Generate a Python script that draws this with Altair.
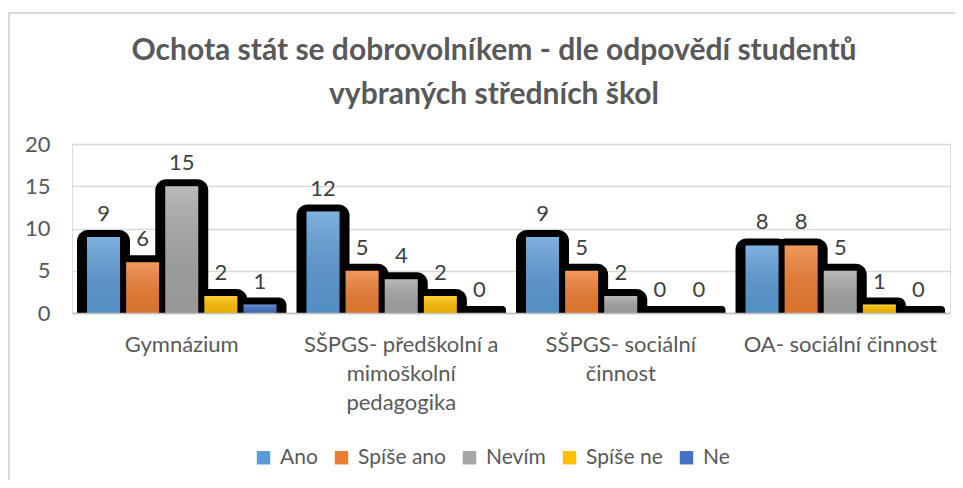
import altair as alt
import pandas as pd

categories = [
    "Gymnázium",
    "SŠPGS- předškolní a\nmimoškolní\npedagogika",
    "SŠPGS- sociální\nčinnost",
    "OA- sociální činnost",
]
series = ["Ano", "Spíše ano", "Nevím", "Spíše ne", "Ne"]
ano = [9, 12, 9, 8]
spise_ano = [6, 5, 5, 8]
nevim = [15, 4, 2, 5]
spise_ne = [2, 2, 0, 1]
ne = [1, 0, 0, 0]
y_ticks = [0, 5, 10, 15, 20]
colors = ["#5b9bd5", "#ed7d31", "#a5a5a5", "#ffc000", "#4472c4"]

title_lines = [
    "Ochota stát se dobrovolníkem - dle odpovědí studentů",
    "vybraných středních škol",
]

rows = []
for s, vals in zip(series, [ano, spise_ano, nevim, spise_ne, ne]):
    for c, v in zip(categories, vals):
        rows.append({"skola": c, "odpoved": s, "pocet": v})
df = pd.DataFrame(rows)

FONT = "Lato"
TXT = "#595959"

x_enc = alt.X(
    "skola:N",
    sort=categories,
    scale=alt.Scale(paddingInner=0.109, paddingOuter=0.0545),
    axis=alt.Axis(
        title=None,
        labelAngle=0,
        labelExpr="split(datum.label, '\\n')",
        labelFont=FONT,
        labelFontSize=22,
        labelColor=TXT,
        labelLineHeight=29,
        labelPadding=21,
        labelBaseline="top",
        labelLimit=0,
        ticks=False,
        domainColor="#bfbfbf",
        domainWidth=1.5,
        zindex=1,
        grid=False,
    ),
)
y_enc = alt.Y(
    "pocet:Q",
    stack=None,
    scale=alt.Scale(domain=[0, 20], nice=False),
    axis=alt.Axis(
        title=None,
        values=y_ticks,
        labelFont=FONT,
        labelFontSize=22,
        labelColor=TXT,
        labelPadding=22,
        ticks=False,
        domain=False,
        gridColor="#d9d9d9",
        gridWidth=1.5,
        zindex=0,
    ),
)
xo_enc = alt.XOffset("odpoved:N", sort=series, scale=alt.Scale(paddingInner=0, paddingOuter=0))

base = alt.Chart(df)

shadow = base.mark_bar(
    color="black",
    width=53,
    cornerRadiusTopLeft=11,
    cornerRadiusTopRight=11,
    yOffset=-7,
    y2Offset=2,
).encode(x=x_enc, y=y_enc, xOffset=xo_enc)

bars = base.mark_bar(width=33).encode(
    x=x_enc,
    y=y_enc,
    xOffset=xo_enc,
    color=alt.Color(
        "odpoved:N",
        sort=series,
        scale=alt.Scale(domain=series, range=colors),
        legend=alt.Legend(
            title=None,
            orient="none",
            direction="horizontal",
            legendX=181,
            legendY=303,
            symbolType="square",
            symbolSize=180,
            symbolStrokeWidth=0,
            labelFont=FONT,
            labelFontSize=21,
            labelColor=TXT,
            labelOffset=6,
            columnPadding=13,
            padding=0,
        ),
    ),
)

shade = base.mark_bar(
    width=33,
    fill=alt.Gradient(
        gradient="linear",
        stops=[
            alt.GradientStop(color="rgba(255,255,255,0.22)", offset=0),
            alt.GradientStop(color="rgba(0,0,0,0.08)", offset=1),
        ],
        x1=0, x2=0, y1=0, y2=1,
    ),
).encode(x=x_enc, y=y_enc, xOffset=xo_enc)

labels = base.mark_text(
    baseline="alphabetic",
    dy=-16,
    font=FONT,
    fontSize=22,
    color="#404040",
).encode(x=x_enc, y=y_enc, xOffset=xo_enc, text="pocet:Q")

frame_data = alt.Data(values=[{"k": 1}])
frame_left = alt.Chart(frame_data).mark_rule(color="#d9d9d9", strokeWidth=2).encode(
    x=alt.value(-63), y=alt.value(-131), y2=alt.value(340)
)
frame_top = alt.Chart(frame_data).mark_rule(color="#d9d9d9", strokeWidth=2).encode(
    x=alt.value(-64), x2=alt.value(890), y=alt.value(-131)
)

chart = alt.layer(frame_left, frame_top, shadow, bars, shade, labels).properties(
    width=878,
    height=169,
    autosize=alt.AutoSizeParams(type="none"),
    padding={"left": 64, "top": 136, "right": 5, "bottom": 167},
    title=alt.TitleParams(
        text=title_lines,
        font=FONT,
        fontSize=30,
        fontWeight="bold",
        color=TXT,
        lineHeight=44,
        anchor="middle",
        frame="group",
        baseline="bottom",
        dx=-17,
        offset=-128,
    ),
).configure_view(stroke=None).configure(background="white")

chart.save("out.html", embed_options={"renderer": "svg", "actions": False})
